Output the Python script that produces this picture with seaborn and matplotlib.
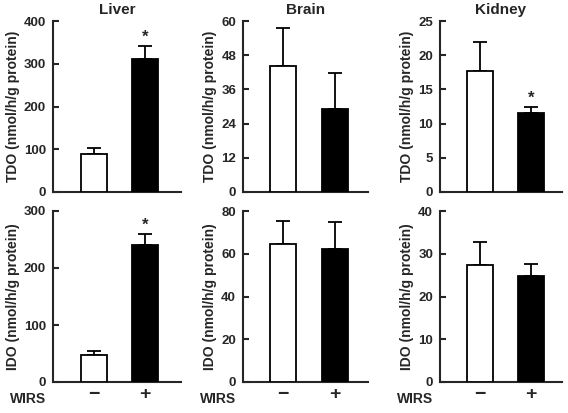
import matplotlib
matplotlib.use("Agg")
import matplotlib.pyplot as plt
import numpy as np
import seaborn as sns

# values
tissues = ["Liver", "Brain", "Kidney"]
wirs_labels = ["\u2212", "+"]

tdo_mean = [[90, 311], [44.3, 29.2], [17.7, 11.5]]
tdo_err = [[14, 31], [13.2, 12.7], [4.2, 0.95]]
tdo_sig = [[False, True], [False, False], [False, True]]
tdo_ymax = [400, 60, 25]
tdo_step = [100, 12, 5]

ido_mean = [[48, 240], [64.5, 62.3], [27.3, 24.9]]
ido_err = [[6.5, 20], [11, 12.5], [5.4, 2.7]]
ido_sig = [[False, True], [False, False], [False, False]]
ido_ymax = [300, 80, 40]
ido_step = [100, 20, 10]

sns.set_style("ticks")
plt.rcParams["font.family"] = ["Liberation Sans", "DejaVu Sans"]
plt.rcParams["font.weight"] = "bold"

W, H = 568, 413
fig = plt.figure(figsize=(W / 100, H / 100), dpi=100)

col_left = [53, 243, 440]
col_right = [181, 368, 562]
row_top = [21, 211]
row_bottom = [192, 382]
xlims = [(-0.8, 1.7), (-0.77, 1.63), (-0.78, 1.6)]


def draw_panel(ax, means, errs, sig, ymax, step, ylabel, show_x, xlim):
    sns.barplot(x=wirs_labels, y=means, hue=wirs_labels, palette=["white", "black"],
                edgecolor="black", linewidth=1.3, width=0.5, legend=False, ax=ax, zorder=3)
    ax.errorbar([0, 1], means, yerr=[[0, 0], errs], fmt="none", ecolor="black",
                elinewidth=1.3, capsize=5, capthick=1.3, zorder=2)
    for i in range(2):
        if sig[i]:
            ax.annotate("*", (i, means[i] + errs[i]), xytext=(0, 0.5),
                        textcoords="offset points", ha="center", va="bottom",
                        fontsize=12, fontweight="bold")
    ax.set_ylim(0, ymax)
    ax.set_yticks(np.arange(0, ymax + step / 2, step))
    ax.set_xlim(*xlim)
    ax.set_ylabel(ylabel, fontsize=10, fontweight="bold", labelpad=3)
    ax.set_xlabel("")
    sns.despine(ax=ax)
    for s in ["left", "bottom"]:
        ax.spines[s].set_linewidth(1.5)
    ax.tick_params(axis="y", direction="in", length=4.5, width=1.5, labelsize=9.5, pad=5)
    ax.tick_params(axis="x", length=0, labelsize=14, pad=3)
    if not show_x:
        ax.set_xticklabels([])
    for lab in ax.get_yticklabels() + ax.get_xticklabels():
        lab.set_fontweight("bold")


for c in range(3):
    for r in range(2):
        ax = fig.add_axes([col_left[c] / W, 1 - row_bottom[r] / H,
                           (col_right[c] - col_left[c]) / W,
                           (row_bottom[r] - row_top[r]) / H])
        if r == 0:
            draw_panel(ax, tdo_mean[c], tdo_err[c], tdo_sig[c], tdo_ymax[c], tdo_step[c],
                       "TDO (nmol/h/g protein)", False, xlims[c])
            ax.set_title(tissues[c], fontsize=11, fontweight="bold", pad=5)
        else:
            draw_panel(ax, ido_mean[c], ido_err[c], ido_sig[c], ido_ymax[c], ido_step[c],
                       "IDO (nmol/h/g protein)", True, xlims[c])
            fig.text((col_left[c] - 43) / W, 1 - 399 / H, "WIRS", ha="left", va="center",
                     fontsize=10, fontweight="bold")

fig.savefig("out.png", dpi=100)
